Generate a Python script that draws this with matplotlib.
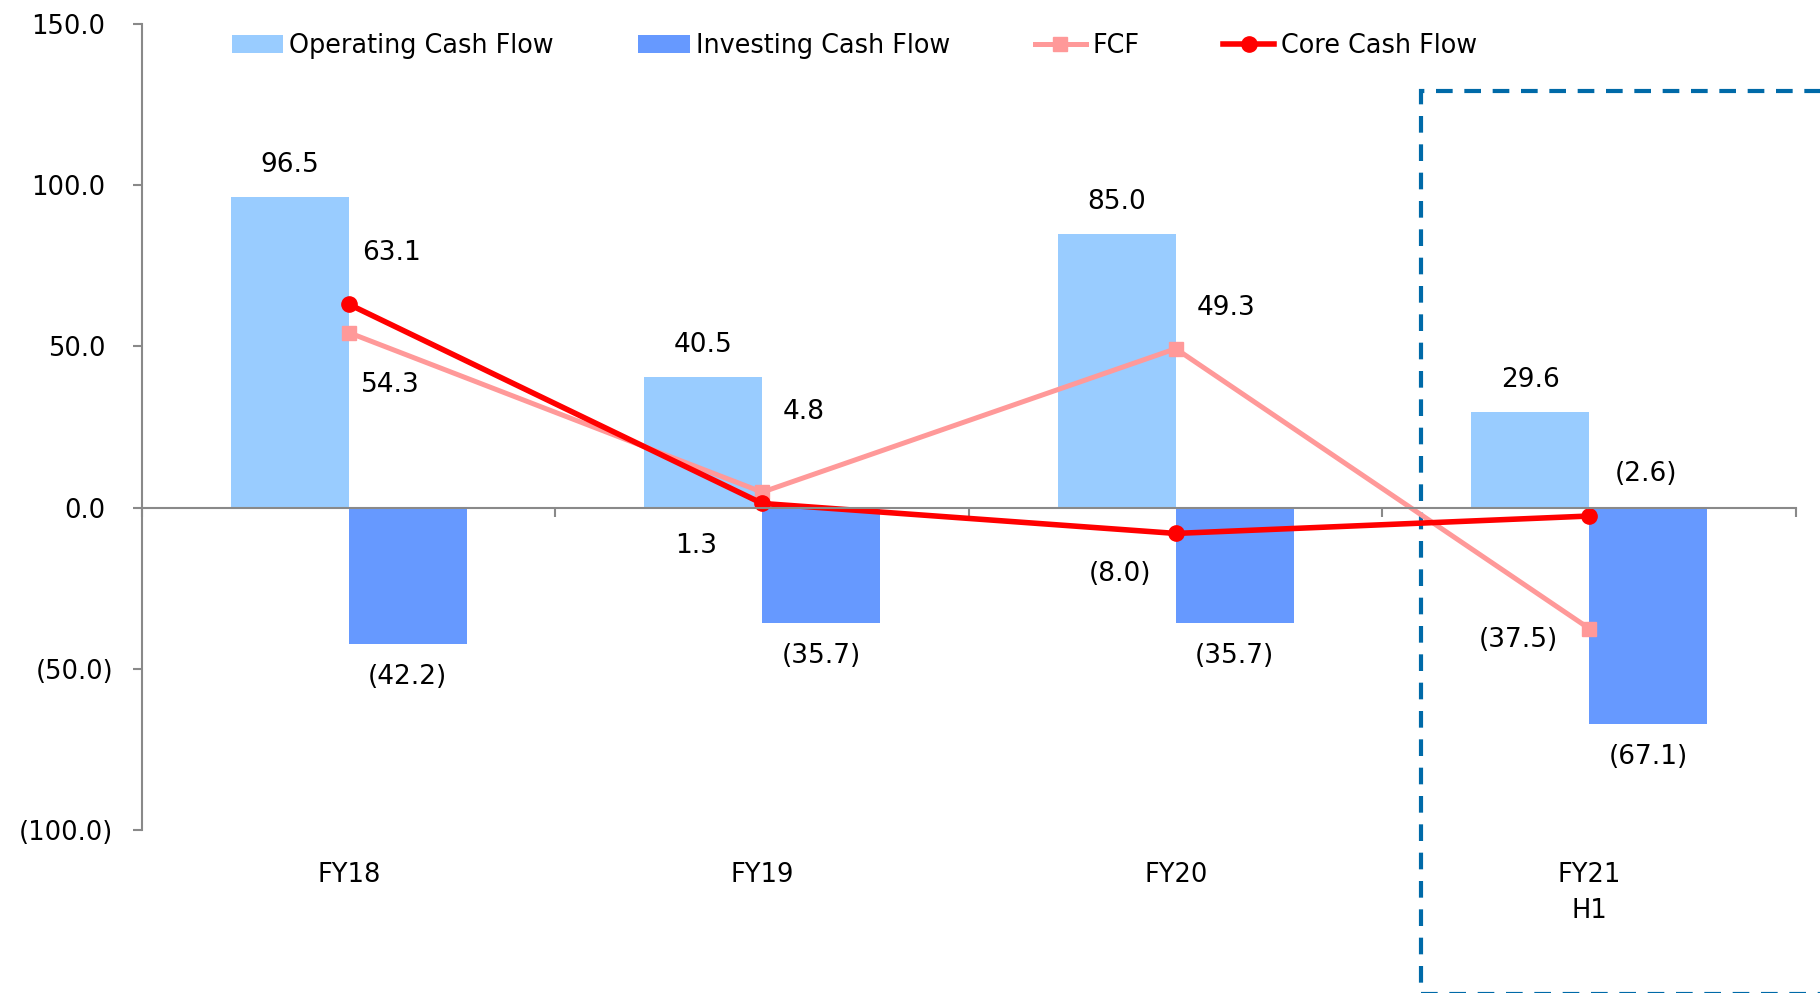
import matplotlib
matplotlib.use("Agg")
import matplotlib.pyplot as plt
import numpy as np
from matplotlib.patches import Rectangle

categories = ["FY18", "FY19", "FY20", "FY21\nH1"]
operating = [96.5, 40.5, 85.0, 29.6]
investing = [-42.2, -35.7, -35.7, -67.1]
fcf = [54.3, 4.8, 49.3, -37.5]
core = [63.1, 1.3, -8.0, -2.6]

# label offsets in pixels of the reference (dx right, dy down)
fcf_off = [(36, 45), (36, -69), (43, -35), (-61, 10)]
core_off = [(37, -44), (-57, 37), (-48, 35), (49, -36)]

c_ocf = "#99CCFF"
c_icf = "#6699FF"
c_fcf = "#FF9999"
c_core = "#FF0000"
grey = "#898989"

plt.rcParams["font.family"] = ["DejaVu Sans"]


def fmt(v):
    return f"({abs(v):.1f})" if v < 0 else f"{v:.1f}"


px = 0.8357  # reference px -> points

fig = plt.figure(figsize=(18.2, 9.93), dpi=100)
ax = fig.add_axes([0.078, 0.1641, 0.9088, 0.8117])

x = np.arange(len(categories))
w = 0.285
b1 = ax.bar(x - w / 2, operating, w, color=c_ocf, label="Operating Cash Flow")
b2 = ax.bar(x + w / 2, investing, w, color=c_icf, label="Investing Cash Flow")
l1, = ax.plot(x, fcf, color=c_fcf, lw=3.6, marker="s", ms=10, label="FCF")
l2, = ax.plot(x, core, color=c_core, lw=4, marker="o", ms=11, label="Core Cash Flow")

for xi, v in zip(x, operating):
    ax.annotate(fmt(v), (xi - w / 2, v), xytext=(0, 23), textcoords="offset points",
                ha="center", va="center", fontsize=19)
for xi, v in zip(x, investing):
    ax.annotate(fmt(v), (xi + w / 2, v), xytext=(0, -24), textcoords="offset points",
                ha="center", va="center", fontsize=19)
for xi, v, (dx, dy) in zip(x, fcf, fcf_off):
    ax.annotate(fmt(v), (xi, v), xytext=(dx * px, -dy * px), textcoords="offset points",
                ha="center", va="center", fontsize=19)
for xi, v, (dx, dy) in zip(x, core, core_off):
    ax.annotate(fmt(v), (xi, v), xytext=(dx * px, -dy * px), textcoords="offset points",
                ha="center", va="center", fontsize=19)

ax.set_xlim(-0.5, len(categories) - 0.5)
ax.set_ylim(-100, 150)
yt = np.arange(-100, 151, 50)
ax.set_yticks(yt)
ax.set_yticklabels([])
# y labels drawn by hand: positive ones keep room for the closing bracket
for v in yt:
    off = -20.5 - (6 if v >= 0 else 0)
    ax.annotate(fmt(v), (0, v), xycoords=ax.get_yaxis_transform(), xytext=(off, 0),
                textcoords="offset points", ha="right", va="center_baseline", fontsize=18.5)
ax.set_xticks(np.arange(-0.5, len(categories), 1))
ax.set_xticklabels([])

for xi, lab in zip(x, categories):
    ax.text(xi, -0.04, lab, transform=ax.get_xaxis_transform(), ha="center", va="top",
            fontsize=18.5, linespacing=1.5)

ax.spines["top"].set_visible(False)
ax.spines["right"].set_visible(False)
ax.spines["bottom"].set_position(("data", 0))
for s in ("left", "bottom"):
    ax.spines[s].set_color(grey)
    ax.spines[s].set_linewidth(1.5)
ax.tick_params(axis="both", colors=grey, length=6.5, width=1.5)

# dashed box around the half-year
box = Rectangle((2.592, -150.8), 2.0, 280, fill=False, ls=(0, (4, 2.8)), lw=3,
                edgecolor="#006AA8", clip_on=False)
ax.add_patch(box)

ax.legend([b1, b2, l1, l2], ["Operating Cash Flow", "Investing Cash Flow", "FCF", "Core Cash Flow"],
          loc="center left", bbox_to_anchor=(232 / 1820, 1 - 46 / 993),
          bbox_transform=fig.transFigure, ncol=4, frameon=False, fontsize=18.4,
          handlelength=2.0, handletextpad=0.25, columnspacing=3.3, borderpad=0,
          borderaxespad=0)

fig.savefig("out.png", dpi=100)
